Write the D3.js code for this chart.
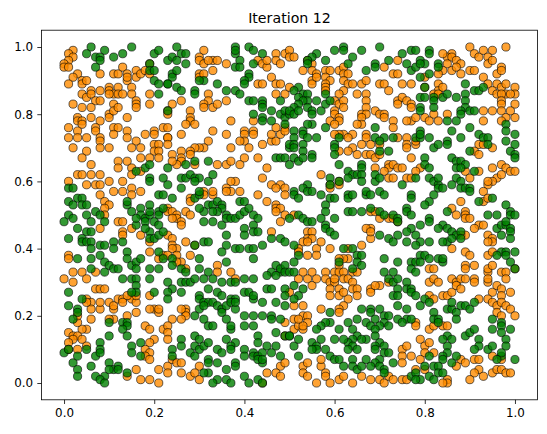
<!DOCTYPE html>
<html><head><meta charset="utf-8">
<script src="https://cdn.jsdelivr.net/npm/d3@7"></script>
<style>body{margin:0;background:#fff}text{font-family:"DejaVu Sans",sans-serif}</style>
</head><body><svg id="c" width="547" height="434"></svg>
<script>
const title = "Iteration 12";
const xTicks = [0, 0.2, 0.4, 0.6, 0.8, 1.0];
const yTicks = [0, 0.2, 0.4, 0.6, 0.8, 1.0];
// agent positions, in hundredths of a unit: "x,y x,y ..."
const orangeXY = `2,99 1,98 2,97 1,96 0,95 0,94 1,94 3,92 2,91 4,90 4,89 5,90 8,92 11,92 12,92 13,94 14,92 14,90 15,88 14,91 16,93 16,91 17,92 18,93 19,92 19,95 1,89 4,86 6,87 5,85 6,86 8,87 7,84 8,84 10,88 10,87 12,88 11,86 12,86 13,86 10,86 15,86 16,84 16,83 16,82 19,86 19,83 2,83 4,82 3,79 3,78 4,78 6,82 6,79 8,78 10,80 10,79 11,83 11,81 12,82 14,79 1,76 4,77 3,75 5,73 3,73 1,73 2,70 7,76 7,75 8,73 8,72 11,76 12,76 14,75 11,74 14,73 16,72 17,70 15,70 18,74 20,75 20,74 22,76 23,73 20,71 21,71 5,69 8,70 10,70 20,69 21,69
31,99 30,97 30,96 31,95 33,96 32,96 34,96 36,95 33,93 30,92 30,91 31,92 43,96 44,95 45,94 45,96 47,98 47,96 48,95 49,98 50,99 50,97 43,89 44,89 46,91 47,89 47,86 48,89 49,86 50,88 32,86 32,84 31,83 33,82 31,82 34,83 36,84 26,84 24,83 23,81 23,80 28,81 28,79 28,78 27,77 29,77 26,74 23,76 23,73 23,71 37,78 42,78 42,75 40,75 40,74 42,74 40,72 36,74 33,75 39,72 37,70 32,72 31,70 30,70 29,70 28,69 26,69 41,70 44,71 46,72 47,72 46,74 48,74 49,76 49,75 47,76
51,97 54,96 55,95 55,93 53,93 55,90 55,89 56,92 56,91 58,93 59,93 58,91 59,90 58,89 58,88 58,87 61,93 62,94 62,92 63,92 62,90 63,89 64,89 62,87 61,86 60,84 61,83 62,84 62,82 60,81 60,80 61,79 61,78 59,78 60,77 66,89 67,90 65,86 67,86 67,84 70,89 71,89 72,87 73,92 71,94 74,92 74,96 75,89 77,89 74,84 75,85 74,83 76,84 77,83 77,82 77,78 76,78 67,82 66,80 67,80 66,79 66,77 65,77 69,81 70,80 71,80 71,79 73,78 73,76 62,74 61,74 60,74 64,74 63,73 67,74 67,73 68,71 66,71 74,73 76,73 76,71 76,70 78,71 65,68 64,70 63,69 70,71 61,69
86,98 85,97 84,98 86,97 87,96 88,95 85,95 86,93 84,93 87,94 88,92 90,100 91,98 92,97 93,99 95,99 94,97 94,95 95,96 96,92 97,94 97,93 90,93 91,93 98,100 83,92 80,91 80,88 83,89 83,87 84,88 82,86 83,86 82,80 83,78 80,79 81,78 78,79 93,91 94,89 96,89 97,88 95,87 96,86 98,89 98,86 100,88 100,86 97,86 99,86 97,84 97,83 97,81 100,83 95,81 93,81 93,78 98,79 97,78 100,79 99,81 85,80 78,72 92,71 93,71 95,70 91,69
4,67 6,65 3,62 4,62 6,62 8,62 12,66 12,64 14,66 17,67 19,67 21,67 15,64 15,62 17,63 1,60 5,59 7,59 8,59 10,60 13,60 11,57 13,57 15,58 15,56 17,57 8,56 9,54 10,53 9,52 9,50 12,48 13,48 13,45 13,44 15,46 8,46 17,44 19,42 19,39 21,37 22,38 1,38 1,37 2,33 4,33 7,33
24,68 26,67 26,66 28,68 29,65 25,65 24,66 34,65 36,65 37,66 39,65 40,67 43,67 45,64 44,61 38,60 37,60 36,58 37,57 39,57 36,57 31,57 31,56 33,56 33,57 28,55 28,54 43,56 45,54 46,59 48,59 49,58 47,58 49,56 47,53 47,52 48,52 49,50 48,48 47,51 46,45 23,52 23,51 24,51 25,50 25,49 26,48 26,47 27,51 28,50 24,49 23,44 24,43 24,41 25,40 24,40 25,38 27,42 28,38 26,36 25,36 23,38 34,35 34,33 37,33 29,41 27,34
67,68 68,68 69,67 70,68 72,65 72,64 73,65 74,64 75,64 71,63 72,61 73,61 76,61 77,61 77,67 57,62 59,59 59,58 61,60 61,59 69,64 51,50 68,51 69,51 70,49 72,49 73,49 74,48 68,46 67,46 68,43 66,41 54,45 55,45 54,43 55,43 53,42 54,42 56,40 57,42 59,40 52,40 52,39 54,38 56,38 63,40 63,37 62,37 61,37 61,35 58,33 60,33 61,33 62,33 64,33 65,33 55,33 53,33 68,45
79,64 78,63 89,63 90,61 92,63 92,68 95,64 97,65 98,64 99,63 100,63 96,61 97,62 95,60 94,59 94,60 93,57 93,54 94,55 86,52 88,54 87,50 89,51 89,50 89,49 90,49 92,47 91,46 93,47 89,44 88,44 94,44 95,43 95,42 94,42 86,40 89,39 90,38 91,35 89,35 89,34 94,33 94,34 95,35 97,33 98,33 100,34 81,34 82,34 94,38 95,39
0,31 2,30 5,31 7,28 8,28 9,28 5,25 6,24 6,22 5,24 8,22 8,24 10,24 11,22 11,23 12,25 13,25 15,26 15,25 16,24 16,21 14,20 11,19 10,19 6,19 5,16 4,16 3,18 3,20 1,15 2,14 3,14 4,13 2,13 1,12 5,11 3,10 1,10 20,22 19,22 21,21 21,22 22,16 18,17 19,16 20,13 19,12 18,10 19,9 18,8 19,7 16,4 14,2 17,1 19,1 21,0 21,4 23,5 19,26 16,26 14,26 13,24
27,22 27,21 27,20 26,22 24,19 26,19 23,17 23,15 23,13 24,7 25,6 26,6 30,5 26,3 28,2 29,3 30,1 23,3 49,18 49,14 48,5 47,3 48,2 45,3 49,6 44,0 38,31
52,31 54,31 55,29 56,31 58,31 59,30 60,30 60,31 62,31 63,31 64,30 64,28 65,28 59,28 61,28 61,26 63,25 62,27 65,26 59,26 68,28 68,27 70,29 72,30 69,29 50,27 51,23 53,23 57,22 62,23 61,22 61,21 51,19 51,16 52,17 53,20 54,20 54,18 53,16 53,17 52,19 75,10 75,8 76,11 75,6 77,8 53,5 53,3 54,2 54,6 57,5 58,3 58,2 56,0 59,0 61,1 62,2 64,0 66,2 68,1 70,1 71,0 72,2 73,1 75,1 76,1 78,18 57,7
81,30 82,31 83,30 86,31 87,30 88,31 89,31 91,31 91,30 94,30 94,31 95,27 96,29 97,28 97,26 99,27 98,31 81,26 82,25 84,26 85,26 86,27 87,29 88,28 92,25 94,25 95,24 96,23 97,24 98,23 99,22 100,20 96,21 97,20 78,17 81,16 82,17 84,17 85,17 79,13 80,11 81,12 80,9 79,7 82,9 88,7 87,5 89,6 91,7 92,7 92,4 91,3 93,2 95,3 96,4 97,4 98,3 99,3 90,1 85,1 85,0 84,0 95,8 97,7 78,4 80,4`;
const greenXY = `6,100 5,98 7,97 9,99 8,97 8,96 7,94 11,97 13,98 15,100 20,98 21,99 19,95 19,93 20,93 20,90 21,89 21,86 23,81 23,96 23,89
25,100 24,97 26,98 27,98 27,95 25,96 24,92 24,91 25,93 23,89 25,88 26,87 31,90 30,90 34,89 29,87 29,86 38,100 38,98 38,99 41,100 42,99 44,98 39,96 38,94 39,94 42,95 41,92 41,91 40,90 40,89 36,87 38,87 39,86 41,84 42,84 44,84 44,83 44,82 42,80 44,79 46,81 46,78 44,78 48,80 49,79 49,81 50,80 48,84 49,77 50,70 50,71
60,99 62,100 62,99 64,97 66,99 70,100 72,96 69,95 69,94 67,93 63,95 56,98 55,97 54,96 54,95 58,96 75,98 77,99 76,95 77,93 78,94 52,88 51,87 53,86 52,85 54,86 54,84 53,84 52,83 51,82 50,81 51,80 52,81 54,82 55,81 55,80 56,84 57,81 58,86 58,83 59,84 58,76 55,77 54,77 53,75 53,74 51,75 51,73 51,71 54,73 53,71 56,73 51,70 53,69 55,68 60,71 61,73 60,70 69,76 69,73 71,73 70,72 73,73 70,69 72,69 78,73
78,99 81,99 81,98 79,96 80,95 79,95 81,92 83,95 83,94 79,91 80,88 79,85 80,85 82,85 82,84 82,82 79,82 79,81 84,85 85,86 87,85 89,86 89,89 91,87 89,84 89,82 88,81 88,80 90,81 91,81 92,87 93,88 85,78 87,78 90,76 86,75 88,73 85,72 79,75 79,73 79,74 81,73 82,70 83,71 85,71 90,69 92,74 93,73 94,73 94,71 98,77 98,75 98,72 100,74 100,71 99,69
16,63 18,64 19,65 19,61 19,60 22,61 1,58 2,58 3,55 4,55 1,54 2,53 4,53 5,53 1,50 0,48 2,49 5,50 7,51 8,50 9,48 6,48 3,46 5,45 6,45 1,43 4,43 4,42 5,42 6,42 6,40 8,41 9,41 11,42 11,40 13,42 6,37 8,38 9,36 10,35 11,34 12,34 14,39 14,37 15,35 16,36 17,37 16,34 19,34 21,34 21,39 22,37 3,37 6,34 9,33 14,53 15,51 17,52 17,50 18,49 19,50 19,51 21,51 21,50 22,52 19,53 21,56 22,56 20,48 21,47 19,45 19,43 20,43 21,44 22,45 18,48 18,46 16,47 16,49 14,54
32,66 29,66 27,65 26,61 27,61 28,62 29,61 30,61 29,60 23,59 26,58 32,60 33,62 24,55 29,55 30,56 30,57 32,53 33,53 34,54 35,53 35,52 34,51 36,50 33,51 31,51 30,52 31,48 33,48 35,47 36,49 37,49 38,49 39,50 39,54 40,54 40,51 41,52 42,50 40,46 40,44 42,47 42,45 43,45 43,49 36,44 46,43 48,43 49,42 29,41 31,42 32,42 36,41 35,39 36,36 38,40 39,40 41,40 42,40 42,37 44,41 30,37 32,33 30,34 24,37 26,34 27,33 24,35 47,35 48,33 48,34 46,33 49,35 49,33 50,33 23,64 47,67 48,67 49,67 50,65
51,67 52,66 53,67 55,67 60,68 61,65 63,63 64,62 63,61 65,62 66,65 66,64 66,62 59,61 61,60 59,59 66,60 69,60 69,62 70,61 75,59 77,56 77,55 51,57 51,56 52,55 54,59 53,58 54,57 55,57 57,56 59,55 60,55 58,53 58,51 60,49 63,56 63,55 64,56 63,51 64,51 66,51 67,56 67,57 68,56 68,52 70,57 71,56 70,51 71,50 73,50 74,49 74,48 76,52 76,51 77,50 77,46 76,45 50,49 52,50 53,49 54,48 55,48 57,49 58,47 58,46 59,45 60,44 70,44 72,43 73,42 74,44 76,42 51,41 52,38 51,36 51,33 62,40 64,40 65,38 66,38 65,36 66,35 64,34 61,36 71,37 74,36 77,36 71,33 73,33 77,34 78,36
80,67 80,65 81,64 78,61 81,61 82,60 83,59 83,58 84,58 83,61 86,67 87,66 88,66 89,65 87,64 88,64 87,61 88,60 91,63 86,59 88,58 89,58 90,58 90,57 92,54 95,55 98,53 82,56 81,54 80,53 85,51 81,49 81,48 84,47 79,47 83,46 85,46 86,45 87,44 88,45 85,42 86,43 88,43 84,42 78,44 79,42 81,42 78,41 79,38 80,38 81,37 79,36 83,37 84,36 84,37 94,50 96,50 99,51 99,50 100,50 96,46 97,47 98,47 98,48 99,46 99,45 97,44 99,43 97,39 98,39 98,38 96,38 99,36 100,39 100,34 78,33 100,68 100,67
13,31 15,31 16,31 19,31 16,29 16,27 15,27 20,27 1,27 1,23 3,22 4,25 3,21 2,19 10,18 13,18 14,18 14,17 13,16 14,14 10,14 8,12 8,10 5,10 7,8 8,9 15,11 15,9 17,12 17,8 0,9 1,10 2,6 3,8 3,4 3,2 6,5 7,2 9,2 8,1 9,0 10,6 11,4 10,4 12,5 12,4 14,3
23,30 24,28 23,27 26,30 27,30 28,30 29,31 31,31 33,31 35,30 37,30 38,30 40,31 42,31 45,32 47,32 26,27 30,26 30,25 32,28 34,27 35,26 37,25 38,25 40,27 41,27 42,25 42,26 44,24 45,28 46,28 47,24 49,23 49,28 49,26 23,25 30,22 31,24 32,24 31,23 33,24 34,23 35,22 35,21 36,23 37,24 38,22 38,24 29,20 31,19 32,17 33,17 37,16 37,17 36,19 40,20 42,20 44,20 46,20 46,19 48,19 40,17 42,17 43,14 47,15 49,14 50,14 26,13 26,11 29,14 30,13 29,11 30,10 31,11 32,12 28,9 29,8 24,10 24,8 34,10 35,9 36,13 38,12 37,11 37,10 40,10 40,8 43,12 45,11 47,11 42,9 42,8 43,8 44,9 44,6 43,7 44,7 46,9 48,8 34,6 32,7 32,6 38,6 38,5 36,4 36,1 37,0 40,2 41,0 43,1 44,0 34,1 33,0 32,3 31,3
51,29 53,28 52,26 51,25 72,31 73,30 74,31 76,30 74,28 76,28 77,28 73,26 74,26 66,22 68,22 70,22 68,21 69,19 71,20 71,18 72,17 70,17 72,20 74,19 74,23 76,22 76,19 75,18 77,19 59,21 59,18 58,18 57,17 56,16 61,16 64,16 63,18 65,19 67,18 68,17 69,16 65,14 67,13 69,14 70,12 71,11 69,11 69,10 71,9 72,9 70,7 69,6 68,5 70,5 71,4 73,6 66,13 64,13 63,12 64,11 63,10 65,10 62,13 60,13 58,10 59,8 60,7 61,7 62,5 64,7 64,5 65,4 66,5 67,7 50,14 51,11 52,13 55,12 56,11 57,13 56,10 52,8 55,10 77,2 78,3 77,27 71,3
78,26 80,25 81,24 79,23 82,21 85,22 86,22 86,24 87,21 87,19 88,23 89,23 90,22 91,24 82,19 83,19 83,18 85,14 86,13 85,11 84,13 85,9 84,8 84,7 89,14 90,15 91,16 92,13 92,11 91,10 95,19 97,18 97,17 95,16 97,15 99,16 98,13 98,11 97,8 97,9 96,7 100,7 94,10 95,11 86,6 87,8 81,8 80,5 82,5 83,5 83,3 81,2 79,1 78,1 82,1 84,3`;

const parse = s => s.trim().split(/\s+/).map(p => { const [a, b] = p.split(","); return [+a / 100, +b / 100]; });
const orange = parse(orangeXY), green = parse(greenXY);

const svg = d3.select("#c");
const L = 41.5, R = 537.5, T = 30.2, B = 399.8;
const x = d3.scaleLinear().domain([-0.05, 1.05]).range([L, R]);
const y = d3.scaleLinear().domain([-0.05, 1.05]).range([B, T]);

const pts = svg.append("g");
function draw(data, fill) {
  pts.selectAll(null).data(data).enter().append("circle")
    .attr("cx", d => x(d[0])).attr("cy", d => y(d[1])).attr("r", 4.1)
    .attr("fill", fill).attr("fill-opacity", 0.8)
    .attr("stroke", "#000").attr("stroke-opacity", 0.8).attr("stroke-width", 0.75);
}
draw(orange, "#ff8c00");
draw(green, "#008000");

const fs = "11.9px";
const gx = svg.append("g").attr("transform", `translate(0,${B})`)
  .call(d3.axisBottom(x).tickValues(xTicks).tickFormat(d3.format(".1f")).tickSize(4.2).tickPadding(4.2).tickSizeOuter(0));
const gy = svg.append("g").attr("transform", `translate(${L},0)`)
  .call(d3.axisLeft(y).tickValues(yTicks).tickFormat(d3.format(".1f")).tickSize(4.2).tickPadding(4.2).tickSizeOuter(0));
[gx, gy].forEach(g => {
  g.select(".domain").remove();
  g.selectAll("line").attr("stroke", "#000").attr("stroke-width", 0.8);
  g.selectAll("text").attr("fill", "#000").style("font-size", fs).style("font-family", "DejaVu Sans");
});
svg.append("rect").attr("x", L).attr("y", T).attr("width", R - L).attr("height", B - T)
  .attr("fill", "none").attr("stroke", "#000").attr("stroke-width", 0.8);
svg.append("text").attr("x", (L + R) / 2).attr("y", 22.5).attr("text-anchor", "middle")
  .style("font-size", "14.2px").style("font-family", "DejaVu Sans").attr("fill", "#000").text(title);
</script></body></html>
